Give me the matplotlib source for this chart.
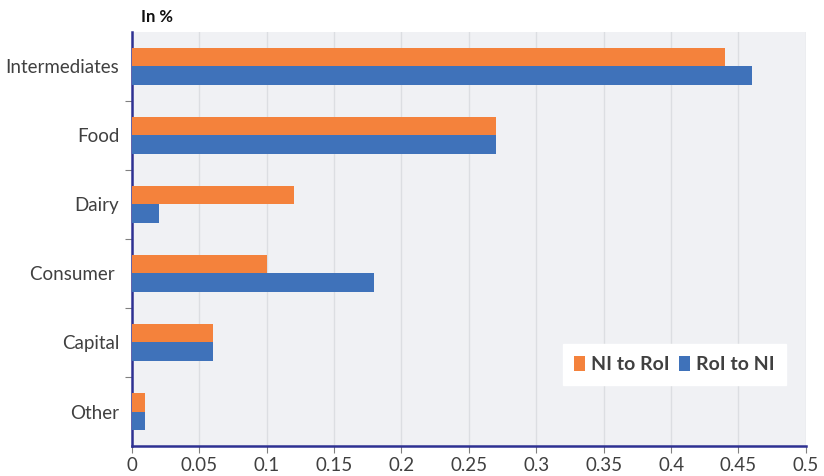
import matplotlib
matplotlib.use("Agg")
import matplotlib.pyplot as plt
import numpy as np

categories = ["Intermediates", "Food", "Dairy", "Consumer ", "Capital", "Other"]
ni_to_roi = [0.44, 0.27, 0.12, 0.10, 0.06, 0.01]
roi_to_ni = [0.46, 0.27, 0.02, 0.18, 0.06, 0.01]
xticks = [0, 0.05, 0.1, 0.15, 0.2, 0.25, 0.3, 0.35, 0.4, 0.45, 0.5]
xticklabels = ["0", "0.05", "0.1", "0.15", "0.2", "0.25", "0.3", "0.35", "0.4", "0.45", "0.5"]

plt.rcParams['font.family'] = ['Lato', 'DejaVu Sans']

fig = plt.figure(figsize=(8.24, 4.76), dpi=100)
ax = fig.add_axes([0.160, 0.063, 0.818, 0.870])
ax.set_facecolor("#F0F1F4")

orange = "#F4823C"
blue = "#3F72BA"
h = 0.265
y = np.arange(len(categories))
ax.barh(y - h / 2, ni_to_roi, height=h, color=orange, label="NI to RoI", zorder=3)
ax.barh(y + h / 2, roi_to_ni, height=h, color=blue, label="RoI to NI", zorder=3)

ax.set_ylim(len(categories) - 0.5, -0.5)
ax.set_xlim(0, 0.5)
ax.set_yticks(y)
ax.set_yticklabels(categories, fontsize=13.5, color="#404040")
ax.set_yticks(np.arange(len(categories) - 1) + 0.5, minor=True)
ax.tick_params(axis="y", which="major", length=0, pad=9)
ax.tick_params(axis="y", which="minor", length=5, color="#808080", width=0.8)
ax.set_xticks(xticks)
ax.set_xticklabels(xticklabels, fontsize=13.5, color="#404040")
ax.tick_params(axis="x", which="major", length=5, color="#808080", width=0.8, pad=3)

ax.grid(axis="x", color="#DCDEE2", linewidth=1, zorder=0)
ax.set_axisbelow(True)
for s in ["top", "right"]:
    ax.spines[s].set_visible(False)
for s in ["left", "bottom"]:
    ax.spines[s].set_color("#2E3192")
    ax.spines[s].set_linewidth(1.8)

fig.text(0.171, 0.965, "In %", fontsize=12, fontweight="bold", color="#111111", va="center", ha="left")

leg = ax.legend(loc="lower right", bbox_to_anchor=(0.985, 0.125), ncol=2, frameon=True,
                fancybox=False, edgecolor="white", facecolor="white", framealpha=1,
                prop={"size": 14, "weight": "bold"}, handlelength=0.55, handleheight=0.8,
                handletextpad=0.3, columnspacing=0.5, borderpad=0.6)
for t in leg.get_texts():
    t.set_color("#404040")

fig.savefig("out.png", dpi=100)
